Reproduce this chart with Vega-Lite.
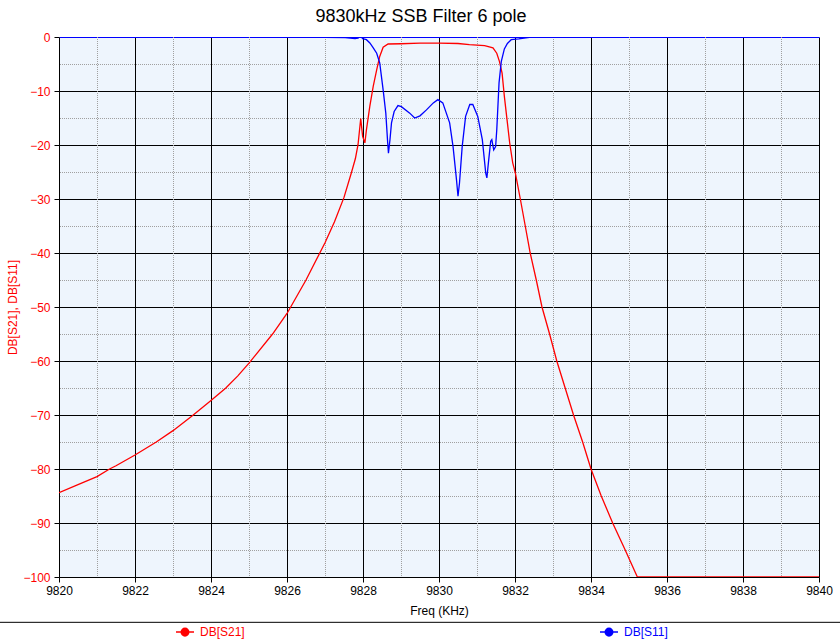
{
  "$schema": "https://vega.github.io/schema/vega-lite/v6.json",
  "width": 760,
  "height": 540,
  "autosize": {"type": "none"},
  "padding": {"left": 59, "top": 37, "right": 21, "bottom": 63},
  "background": "#FFFFFF",
  "title": {
    "text": "9830kHz SSB Filter 6 pole",
    "font": "Liberation Sans",
    "fontSize": 18,
    "fontWeight": "normal",
    "color": "#000000",
    "anchor": "middle",
    "offset": 5,
    "dx": -18
  },
  "config": {
    "font": "Liberation Sans",
    "view": {"fill": "#EEF5FD", "stroke": null}
  },
  "datasets": {
    "minorx": [
      {"f": 9821}, {"f": 9823}, {"f": 9825}, {"f": 9827}, {"f": 9829},
      {"f": 9831}, {"f": 9833}, {"f": 9835}, {"f": 9837}, {"f": 9839}
    ],
    "minory": [
      {"db": -95}, {"db": -85}, {"db": -75}, {"db": -65}, {"db": -55},
      {"db": -45}, {"db": -35}, {"db": -25}, {"db": -15}, {"db": -5}
    ],
    "curves": [
      {"f": 9820.0, "db": -84.4, "s": "DB[S21]"},
      {"f": 9820.5, "db": -82.9, "s": "DB[S21]"},
      {"f": 9821.0, "db": -81.4, "s": "DB[S21]"},
      {"f": 9821.33, "db": -80.0, "s": "DB[S21]"},
      {"f": 9821.5, "db": -79.4, "s": "DB[S21]"},
      {"f": 9822.0, "db": -77.4, "s": "DB[S21]"},
      {"f": 9822.56, "db": -75.0, "s": "DB[S21]"},
      {"f": 9823.0, "db": -72.9, "s": "DB[S21]"},
      {"f": 9823.5, "db": -70.2, "s": "DB[S21]"},
      {"f": 9824.0, "db": -67.3, "s": "DB[S21]"},
      {"f": 9824.39, "db": -65.0, "s": "DB[S21]"},
      {"f": 9824.7, "db": -62.8, "s": "DB[S21]"},
      {"f": 9825.0, "db": -60.4, "s": "DB[S21]"},
      {"f": 9825.62, "db": -55.0, "s": "DB[S21]"},
      {"f": 9826.0, "db": -51.2, "s": "DB[S21]"},
      {"f": 9826.5, "db": -45.0, "s": "DB[S21]"},
      {"f": 9827.0, "db": -38.1, "s": "DB[S21]"},
      {"f": 9827.25, "db": -34.2, "s": "DB[S21]"},
      {"f": 9827.5, "db": -29.7, "s": "DB[S21]"},
      {"f": 9827.7, "db": -25.0, "s": "DB[S21]"},
      {"f": 9827.8, "db": -22.5, "s": "DB[S21]"},
      {"f": 9827.87, "db": -19.9, "s": "DB[S21]"},
      {"f": 9827.94, "db": -15.1, "s": "DB[S21]"},
      {"f": 9827.99, "db": -18.4, "s": "DB[S21]"},
      {"f": 9828.05, "db": -19.6, "s": "DB[S21]"},
      {"f": 9828.09, "db": -17.2, "s": "DB[S21]"},
      {"f": 9828.18, "db": -12.8, "s": "DB[S21]"},
      {"f": 9828.27, "db": -9.1, "s": "DB[S21]"},
      {"f": 9828.36, "db": -6.1, "s": "DB[S21]"},
      {"f": 9828.44, "db": -3.6, "s": "DB[S21]"},
      {"f": 9828.53, "db": -1.9, "s": "DB[S21]"},
      {"f": 9828.66, "db": -1.3, "s": "DB[S21]"},
      {"f": 9829.0, "db": -1.25, "s": "DB[S21]"},
      {"f": 9829.5, "db": -1.15, "s": "DB[S21]"},
      {"f": 9830.0, "db": -1.15, "s": "DB[S21]"},
      {"f": 9830.5, "db": -1.2, "s": "DB[S21]"},
      {"f": 9830.8, "db": -1.4, "s": "DB[S21]"},
      {"f": 9831.2, "db": -1.6, "s": "DB[S21]"},
      {"f": 9831.42, "db": -2.0, "s": "DB[S21]"},
      {"f": 9831.52, "db": -3.0, "s": "DB[S21]"},
      {"f": 9831.59, "db": -4.5, "s": "DB[S21]"},
      {"f": 9831.66, "db": -6.7, "s": "DB[S21]"},
      {"f": 9831.72, "db": -11.0, "s": "DB[S21]"},
      {"f": 9831.8, "db": -15.9, "s": "DB[S21]"},
      {"f": 9831.86, "db": -19.6, "s": "DB[S21]"},
      {"f": 9831.94, "db": -23.3, "s": "DB[S21]"},
      {"f": 9832.01, "db": -25.2, "s": "DB[S21]"},
      {"f": 9832.14, "db": -30.0, "s": "DB[S21]"},
      {"f": 9832.27, "db": -35.0, "s": "DB[S21]"},
      {"f": 9832.4, "db": -40.0, "s": "DB[S21]"},
      {"f": 9832.56, "db": -45.0, "s": "DB[S21]"},
      {"f": 9832.71, "db": -50.0, "s": "DB[S21]"},
      {"f": 9832.91, "db": -55.0, "s": "DB[S21]"},
      {"f": 9833.1, "db": -60.0, "s": "DB[S21]"},
      {"f": 9833.32, "db": -65.0, "s": "DB[S21]"},
      {"f": 9833.54, "db": -70.0, "s": "DB[S21]"},
      {"f": 9833.78, "db": -75.0, "s": "DB[S21]"},
      {"f": 9834.0, "db": -80.0, "s": "DB[S21]"},
      {"f": 9834.27, "db": -85.0, "s": "DB[S21]"},
      {"f": 9834.57, "db": -90.0, "s": "DB[S21]"},
      {"f": 9834.9, "db": -95.0, "s": "DB[S21]"},
      {"f": 9835.22, "db": -100.0, "s": "DB[S21]"},
      {"f": 9836.0, "db": -100.0, "s": "DB[S21]"},
      {"f": 9838.0, "db": -100.0, "s": "DB[S21]"},
      {"f": 9840.0, "db": -100.0, "s": "DB[S21]"},
      {"f": 9826.56, "db": -0.05, "s": "DB[S11]"},
      {"f": 9827.0, "db": -0.08, "s": "DB[S11]"},
      {"f": 9827.53, "db": -0.13, "s": "DB[S11]"},
      {"f": 9827.79, "db": -0.3, "s": "DB[S11]"},
      {"f": 9827.87, "db": -0.2, "s": "DB[S11]"},
      {"f": 9827.94, "db": 0.2, "s": "DB[S11]"},
      {"f": 9827.99, "db": -0.3, "s": "DB[S11]"},
      {"f": 9828.09, "db": -0.5, "s": "DB[S11]"},
      {"f": 9828.18, "db": -1.1, "s": "DB[S11]"},
      {"f": 9828.27, "db": -2.0, "s": "DB[S11]"},
      {"f": 9828.36, "db": -3.0, "s": "DB[S11]"},
      {"f": 9828.44, "db": -4.8, "s": "DB[S11]"},
      {"f": 9828.53, "db": -9.8, "s": "DB[S11]"},
      {"f": 9828.6, "db": -14.1, "s": "DB[S11]"},
      {"f": 9828.65, "db": -19.6, "s": "DB[S11]"},
      {"f": 9828.67, "db": -21.5, "s": "DB[S11]"},
      {"f": 9828.71, "db": -19.0, "s": "DB[S11]"},
      {"f": 9828.75, "db": -15.9, "s": "DB[S11]"},
      {"f": 9828.82, "db": -13.8, "s": "DB[S11]"},
      {"f": 9828.92, "db": -12.7, "s": "DB[S11]"},
      {"f": 9829.01, "db": -12.9, "s": "DB[S11]"},
      {"f": 9829.23, "db": -14.1, "s": "DB[S11]"},
      {"f": 9829.36, "db": -15.0, "s": "DB[S11]"},
      {"f": 9829.5, "db": -14.6, "s": "DB[S11]"},
      {"f": 9829.67, "db": -13.5, "s": "DB[S11]"},
      {"f": 9829.85, "db": -12.2, "s": "DB[S11]"},
      {"f": 9829.97, "db": -11.6, "s": "DB[S11]"},
      {"f": 9830.1, "db": -12.2, "s": "DB[S11]"},
      {"f": 9830.28, "db": -15.9, "s": "DB[S11]"},
      {"f": 9830.37, "db": -20.3, "s": "DB[S11]"},
      {"f": 9830.46, "db": -26.4, "s": "DB[S11]"},
      {"f": 9830.5, "db": -29.5, "s": "DB[S11]"},
      {"f": 9830.54, "db": -27.0, "s": "DB[S11]"},
      {"f": 9830.61, "db": -20.3, "s": "DB[S11]"},
      {"f": 9830.7, "db": -14.7, "s": "DB[S11]"},
      {"f": 9830.81, "db": -12.5, "s": "DB[S11]"},
      {"f": 9830.89, "db": -12.5, "s": "DB[S11]"},
      {"f": 9831.02, "db": -14.7, "s": "DB[S11]"},
      {"f": 9831.14, "db": -19.0, "s": "DB[S11]"},
      {"f": 9831.23, "db": -25.2, "s": "DB[S11]"},
      {"f": 9831.26, "db": -26.1, "s": "DB[S11]"},
      {"f": 9831.3, "db": -23.3, "s": "DB[S11]"},
      {"f": 9831.36, "db": -19.3, "s": "DB[S11]"},
      {"f": 9831.39, "db": -19.0, "s": "DB[S11]"},
      {"f": 9831.44, "db": -20.9, "s": "DB[S11]"},
      {"f": 9831.49, "db": -20.3, "s": "DB[S11]"},
      {"f": 9831.52, "db": -17.2, "s": "DB[S11]"},
      {"f": 9831.58, "db": -8.5, "s": "DB[S11]"},
      {"f": 9831.64, "db": -4.5, "s": "DB[S11]"},
      {"f": 9831.72, "db": -2.2, "s": "DB[S11]"},
      {"f": 9831.8, "db": -1.2, "s": "DB[S11]"},
      {"f": 9831.9, "db": -0.5, "s": "DB[S11]"},
      {"f": 9832.1, "db": -0.35, "s": "DB[S11]"},
      {"f": 9832.38, "db": -0.05, "s": "DB[S11]"},
      {"f": 9833.52, "db": -0.05, "s": "DB[S11]"}
    ]
  },
  "layer": [
    {
      "data": {"name": "minorx"},
      "mark": {"type": "rule", "color": "#A0A0A0", "strokeWidth": 1, "strokeDash": [1, 1], "xOffset": 0.5},
      "encoding": {
        "x": {"field": "f", "type": "quantitative"}
      }
    },
    {
      "data": {"name": "minory"},
      "mark": {"type": "rule", "color": "#A0A0A0", "strokeWidth": 1, "strokeDash": [1, 1], "yOffset": 0.5},
      "encoding": {
        "y": {"field": "db", "type": "quantitative"}
      }
    },
    {
      "data": {"name": "curves"},
      "mark": {"type": "line", "strokeWidth": 1.3, "clip": true},
      "encoding": {
        "x": {
          "field": "f",
          "type": "quantitative",
          "scale": {"domain": [9820, 9840], "nice": false, "zero": false},
          "axis": {
            "title": "Freq (KHz)",
            "titleFont": "Liberation Sans",
            "titleFontSize": 12,
            "titleFontWeight": "normal",
            "titleColor": "#000000",
            "titlePadding": 9,
            "values": [9820, 9822, 9824, 9826, 9828, 9830, 9832, 9834, 9836, 9838, 9840],
            "format": "d",
            "labelFont": "Liberation Sans",
            "labelFontSize": 12,
            "labelColor": "#000000",
            "labelPadding": 3,
            "labelFlush": false,
            "labelOverlap": false,
            "domain": false,
            "grid": true,
            "gridColor": "#000000",
            "gridOpacity": 1,
            "gridWidth": 1,
            "tickColor": "#000000",
            "tickSize": 5
          }
        },
        "y": {
          "field": "db",
          "type": "quantitative",
          "scale": {"domain": [-100, 0], "nice": false, "zero": false},
          "axis": {
            "title": "DB[S21], DB[S11]",
            "titleFont": "Liberation Sans",
            "titleFontSize": 12,
            "titleFontWeight": "normal",
            "titleColor": "#FF0000",
            "titlePadding": 3,
            "values": [-100, -90, -80, -70, -60, -50, -40, -30, -20, -10, 0],
            "labelFont": "Liberation Sans",
            "labelFontSize": 12,
            "labelColor": "#FF0000",
            "labelPadding": 4,
            "labelFlush": false,
            "labelOverlap": false,
            "domain": false,
            "grid": true,
            "gridColor": {"expr": "datum.value === 0 ? '#0000FF' : '#000000'"},
            "gridOpacity": 1,
            "gridWidth": 1,
            "tickColor": "#000000",
            "tickSize": 5
          }
        },
        "color": {
          "field": "s",
          "type": "nominal",
          "scale": {"domain": ["DB[S21]", "DB[S11]"], "range": ["#FF0000", "#0000FF"]},
          "legend": {
            "title": null,
            "orient": "none",
            "legendX": 116,
            "legendY": 585,
            "direction": "horizontal",
            "columnPadding": 352,
            "padding": 0,
            "labelFont": "Liberation Sans",
            "labelFontSize": 12,
            "labelOffset": 5,
            "labelColor": {"expr": "datum.label === 'DB[S21]' ? '#FF0000' : '#0000FF'"},
            "symbolType": "M-1,0L1,0M-0.42,0A0.42,0.42,0,1,1,0.42,0A0.42,0.42,0,1,1,-0.42,0M-0.3,0A0.3,0.3,0,1,1,0.3,0A0.3,0.3,0,1,1,-0.3,0M-0.18,0A0.18,0.18,0,1,1,0.18,0A0.18,0.18,0,1,1,-0.18,0M-0.07,0A0.07,0.07,0,1,1,0.07,0A0.07,0.07,0,1,1,-0.07,0",
            "symbolSize": 324,
            "symbolStrokeWidth": 1.5
          }
        },
        "detail": {"field": "s", "type": "nominal"}
      }
    },
    {
      "data": {"values": [{}]},
      "mark": {"type": "rule", "clip": false, "color": "#000000", "strokeWidth": 1, "yOffset": 0.5},
      "encoding": {
        "x": {"datum": 9818.44, "type": "quantitative"},
        "x2": {"datum": 9840.6},
        "y": {"datum": -108.3, "type": "quantitative"}
      }
    }
  ]
}
